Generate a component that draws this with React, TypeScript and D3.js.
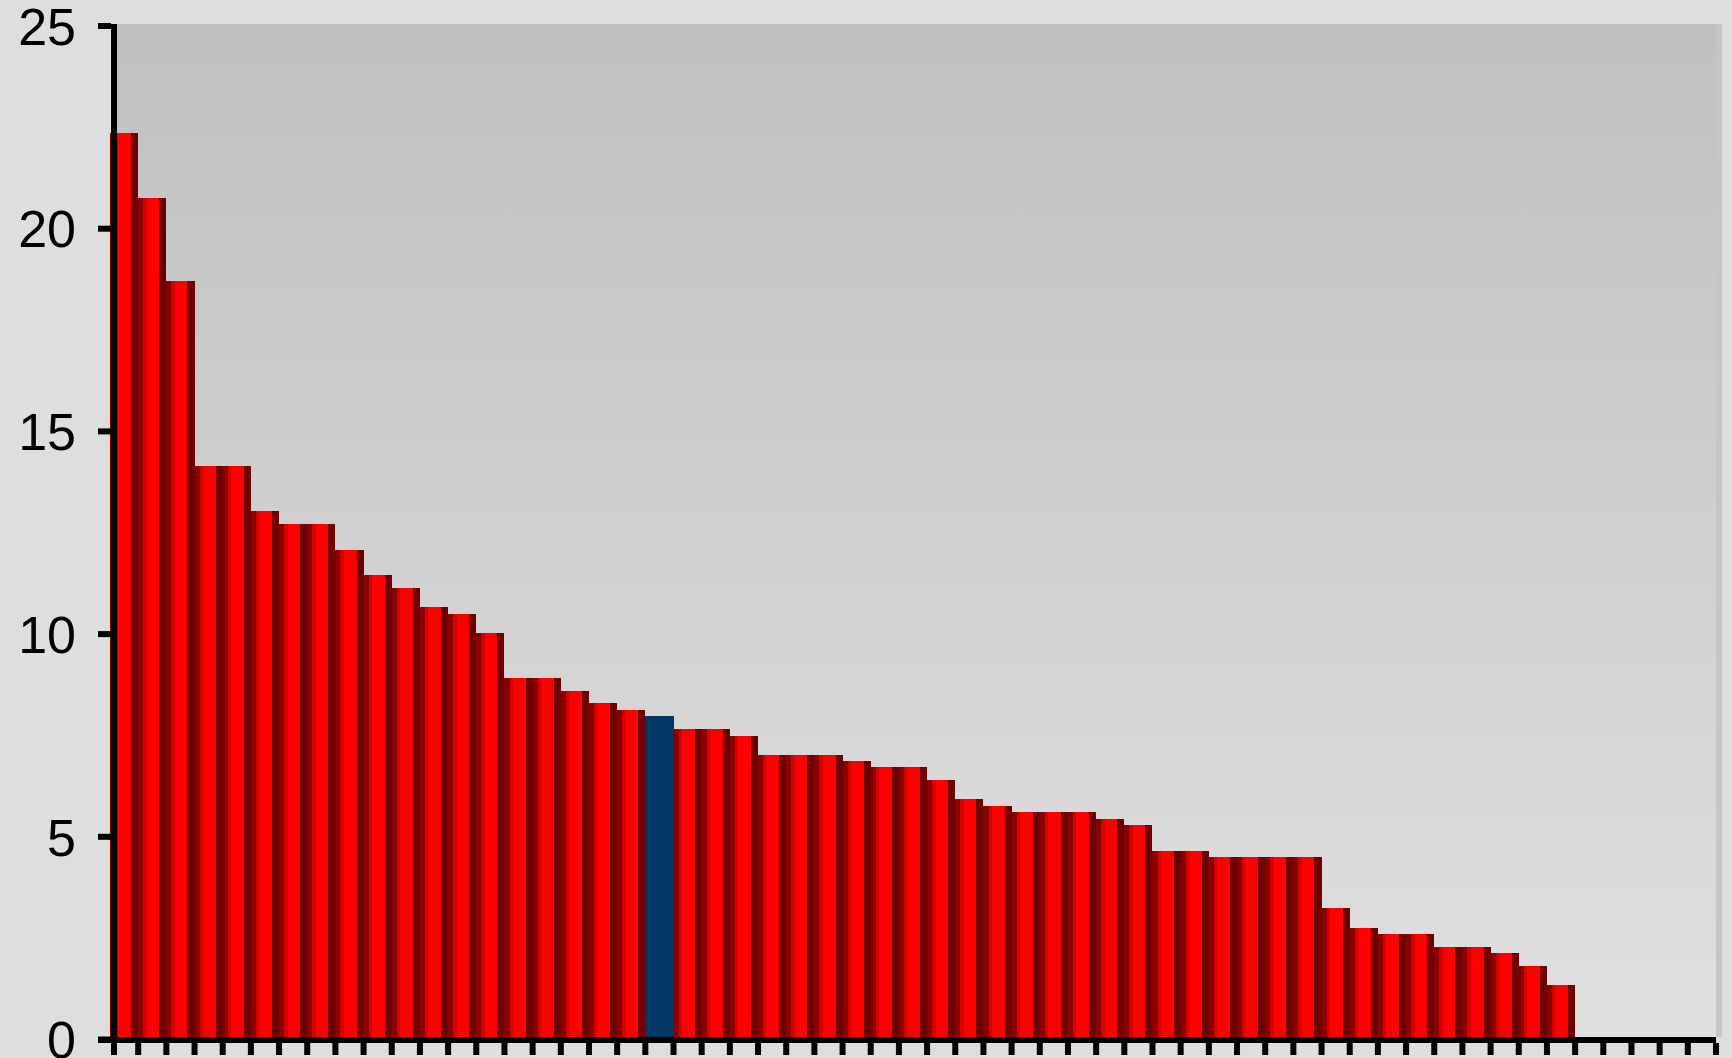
import React, { useEffect, useRef } from "react";
import * as d3 from "d3";

// 57 category slots on the x axis, only the first 52 carry a bar
const categories = d3.range(1, 58).map((d) => String(d));
const values = [
  22.36, 20.75, 18.7, 14.14, 14.14, 13.04, 12.72, 12.72, 12.07, 11.46,
  11.14, 10.67, 10.49, 10.02, 8.91, 8.91, 8.59, 8.3, 8.12, 7.98,
  7.66, 7.66, 7.48, 7.02, 7.02, 7.02, 6.87, 6.72, 6.72, 6.4,
  5.93, 5.76, 5.61, 5.61, 5.61, 5.44, 5.29, 4.65, 4.65, 4.5,
  4.5, 4.5, 4.5, 3.24, 2.75, 2.6, 2.6, 2.28, 2.28, 2.13,
  1.81, 1.34,
];
const highlight = ["20"];
const yTicks = [0, 5, 10, 15, 20, 25];

const W = 1732;
const H = 1058;

export default function App() {
  const ref = useRef<SVGSVGElement>(null);

  useEffect(() => {
    document.body.style.margin = "0";
    const svg = d3.select(ref.current);
    svg.selectAll("*").remove();

    const x = d3.scaleBand().domain(categories).range([110, 1716]).padding(0);
    const y = d3.scaleLinear().domain([0, 25]).range([1039.5, 26]);
    const plotTop = 24;
    const base = y(0) - 2.5;

    const defs = svg.append("defs");
    const bg = defs.append("linearGradient").attr("id", "plotBg")
      .attr("x1", 0).attr("y1", 0).attr("x2", 0).attr("y2", 1);
    bg.append("stop").attr("offset", 0).attr("stop-color", "#c0c0c0");
    bg.append("stop").attr("offset", 1).attr("stop-color", "#e0e0e0");

    // hard banded shading of the red bars
    const shade = defs.append("linearGradient").attr("id", "barShade")
      .attr("x1", 0).attr("y1", 0).attr("x2", 1).attr("y2", 0);
    const bands: [number, number, string][] = [
      [0, 0.18, "#880000"],
      [0.18, 0.3, "#d60000"],
      [0.3, 0.75, "#ff0000"],
      [0.75, 1, "#700000"],
    ];
    bands.forEach(([a, b, c]) => {
      shade.append("stop").attr("offset", a).attr("stop-color", c);
      shade.append("stop").attr("offset", b).attr("stop-color", c);
    });

    svg.append("rect").attr("width", W).attr("height", H).attr("fill", "#dedede");
    svg.append("rect")
      .attr("x", 117).attr("y", plotTop)
      .attr("width", 1722 - 117).attr("height", base - plotTop)
      .attr("fill", "url(#plotBg)");
    svg.append("rect")
      .attr("x", 1716).attr("y", plotTop)
      .attr("width", 6).attr("height", base - plotTop)
      .attr("fill", "#c6c6c6");

    const data = values.map((v, i) => ({ cat: categories[i], v }));
    svg.append("g").selectAll("rect").data(data).enter().append("rect")
      .attr("x", (d) => x(d.cat)!)
      .attr("y", (d) => y(d.v))
      .attr("width", x.bandwidth())
      .attr("height", (d) => y(0) - y(d.v))
      .attr("fill", (d) => highlight.includes(d.cat) ? "#003764" : "url(#barShade)")
      .attr("shape-rendering", "crispEdges");

    // axes
    const ax = svg.append("g").attr("fill", "#000");
    ax.append("rect").attr("x", 111).attr("y", plotTop).attr("width", 6).attr("height", 1055 - plotTop);
    ax.append("rect").attr("x", 98).attr("y", 1037).attr("width", 1716 - 98).attr("height", 6);

    ax.selectAll(".yt").data(yTicks).enter().append("rect")
      .attr("x", 98).attr("y", (d) => y(d) - 3)
      .attr("width", 13).attr("height", 6);

    const bounds = categories.map((c) => x(c)!).concat([x.range()[1]]);
    ax.selectAll(".xt").data(bounds.slice(1)).enter().append("rect")
      .attr("x", (d) => d - 3).attr("y", 1043)
      .attr("width", 6).attr("height", 12);

    svg.append("g").selectAll("text").data(yTicks).enter().append("text")
      .attr("x", 76)
      .attr("y", (d) => y(d))
      .attr("dy", "0.36em")
      .attr("text-anchor", "end")
      .attr("font-family", "'Liberation Sans', Arial, sans-serif")
      .attr("font-size", 52)
      .attr("fill", "#000")
      .text((d) => d);
  }, []);

  return <svg ref={ref} width={W} height={H} style={{ display: "block" }} />;
}
